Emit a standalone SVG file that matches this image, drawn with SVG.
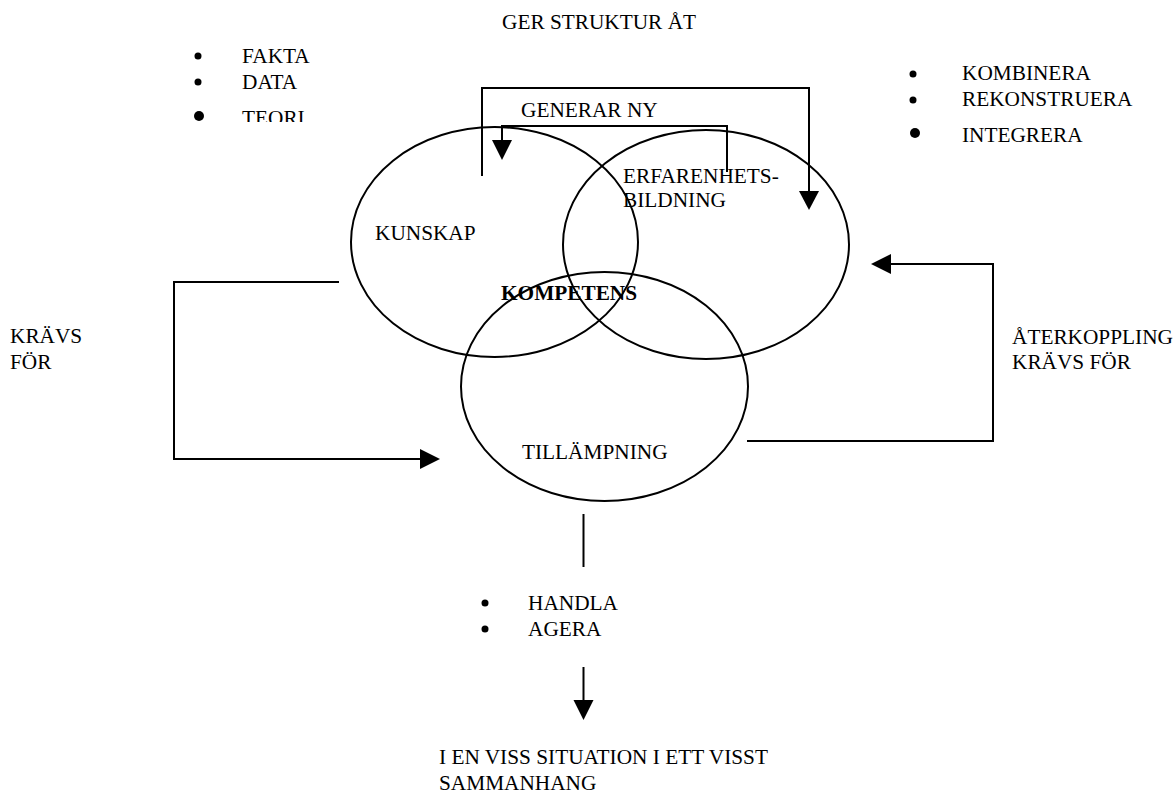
<svg xmlns="http://www.w3.org/2000/svg" width="1176" height="793" viewBox="0 0 1176 793">
  <style>
    text { font-family: "Liberation Serif", "Times New Roman", serif; font-size: 21.3px; fill: #000; }
    .bold { font-weight: bold; }
    .ring { fill: none; stroke: #000; stroke-width: 2; }
    .wire { fill: none; stroke: #000; stroke-width: 2; }
    .head { fill: #000; stroke: none; }
    .dot { fill: #000; }
  </style>
  <defs>
    <clipPath id="teori-clip">
      <rect x="150" y="95" width="200" height="27"/>
    </clipPath>
  </defs>

  <rect width="1176" height="793" fill="#fff"/>

  <!-- circles of the competence model -->
  <g id="kunskap">
    <ellipse class="ring" cx="494.5" cy="242" rx="143.5" ry="115"/>
    <text x="375" y="240">KUNSKAP</text>
  </g>
  <g id="erfarenhetsbildning">
    <ellipse class="ring" cx="706" cy="244.5" rx="143" ry="114.5"/>
    <text x="623" y="183">ERFARENHETS-</text>
    <text x="623" y="207">BILDNING</text>
  </g>
  <g id="tillampning">
    <ellipse class="ring" cx="604.5" cy="386.5" rx="143.5" ry="114.5"/>
    <text x="522" y="459">TILLÄMPNING</text>
  </g>
  <g id="kompetens">
    <text class="bold" x="501" y="300">KOMPETENS</text>
  </g>

  <!-- connectors -->
  <g id="connectors">
    <!-- ger struktur åt -->
    <polyline class="wire" points="482,176 482,88 809,88 809,192"/>
    <polygon class="head" points="799,191 819,191 809,210"/>
    <!-- generar ny -->
    <polyline class="wire" points="727,172 727,126 502,126 502,141"/>
    <polygon class="head" points="492,140 512,140 502,160"/>
    <!-- krävs för -->
    <polyline class="wire" points="339,282 174,282 174,459 421,459"/>
    <polygon class="head" points="420,449 420,469 440,459"/>
    <!-- återkoppling krävs för -->
    <polyline class="wire" points="747,441 993,441 993,264 890,264"/>
    <polygon class="head" points="891,254 891,274 871,264"/>
    <!-- handla / agera -->
    <line class="wire" x1="583.5" y1="514" x2="583.5" y2="567"/>
    <line class="wire" x1="583.5" y1="667" x2="583.5" y2="701"/>
    <polygon class="head" points="573.5,700 593.5,700 583.5,720"/>
  </g>

  <!-- labels and lists -->
  <g id="label-struktur">
    <text x="502" y="29">GER STRUKTUR ÅT</text>
  </g>
  <g id="label-generar">
    <text x="521" y="117">GENERAR NY</text>
  </g>
  <g id="list-kunskap">
    <circle class="dot" cx="198" cy="56" r="3.5"/>
    <text x="242" y="63">FAKTA</text>
    <circle class="dot" cx="198" cy="82" r="3.5"/>
    <text x="242" y="89">DATA</text>
    <circle class="dot" cx="199" cy="116" r="5"/>
    <text x="242" y="125" clip-path="url(#teori-clip)">TEORI</text>
  </g>
  <g id="list-erfarenhet">
    <circle class="dot" cx="913" cy="74" r="3.5"/>
    <text x="962" y="80">KOMBINERA</text>
    <circle class="dot" cx="913" cy="100" r="3.5"/>
    <text x="962" y="106">REKONSTRUERA</text>
    <circle class="dot" cx="915" cy="133" r="5"/>
    <text x="962" y="142">INTEGRERA</text>
  </g>
  <g id="label-kravs">
    <text x="10" y="343">KRÄVS</text>
    <text x="10" y="369">FÖR</text>
  </g>
  <g id="label-aterkoppling">
    <text x="1012" y="344">ÅTERKOPPLING</text>
    <text x="1012" y="369">KRÄVS FÖR</text>
  </g>
  <g id="list-handla">
    <circle class="dot" cx="485" cy="603" r="3.5"/>
    <text x="528" y="610">HANDLA</text>
    <circle class="dot" cx="485" cy="629" r="3.5"/>
    <text x="528" y="636">AGERA</text>
  </g>
  <g id="label-situation">
    <text x="439" y="764">I EN VISS SITUATION I ETT VISST</text>
    <text x="439" y="790">SAMMANHANG</text>
  </g>
</svg>
